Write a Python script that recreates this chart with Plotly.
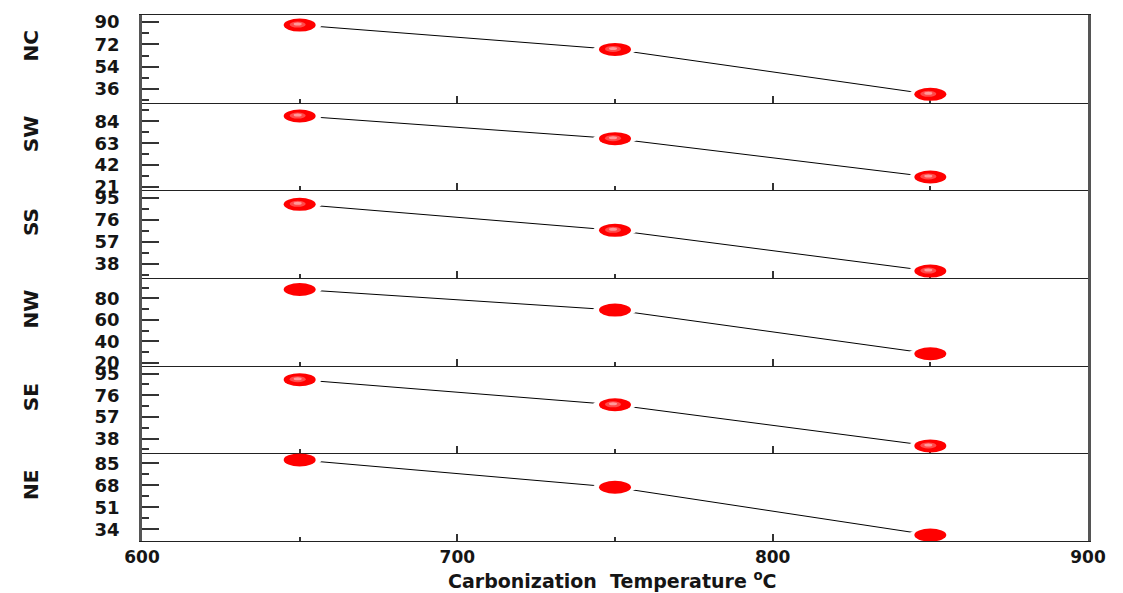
import plotly.graph_objects as go
from plotly.subplots import make_subplots

# ---------------- data ----------------
temps = [650, 750, 850]
regions = ["NC", "SW", "SS", "NW", "SE", "NE"]
nc = [87.6, 67.9, 31.7]
sw = [89.1, 67.4, 30.6]
ss = [89.2, 66.8, 31.6]
nw = [88.3, 69.2, 28.6]
se = [89.7, 67.7, 31.6]
ne = [87.6, 66.5, 29.6]
series = [nc, sw, ss, nw, se, ne]

# y-axis tick settings per panel (first labelled tick, step)
tick_start = [36, 21, 38, 20, 38, 34]
tick_step = [18, 21, 19, 20, 19, 17]
y_ranges = [[25.0, 95.7], [17.8, 101.9], [25.6, 101.3], [17.5, 99.0], [25.1, 102.0], [25.0, 92.7]]
highlight = [True, True, True, False, True, False]

x_ticks = [600, 700, 800, 900]
x_title = "Carbonization  Temperature <sup>o</sup>C"

# ---------------- figure ----------------
fig = make_subplots(rows=6, cols=1, shared_xaxes=True, vertical_spacing=0)

FONT = "DejaVu Sans"
TXT = "#151515"

for i, vals in enumerate(series):
    r = i + 1
    fig.add_trace(
        go.Scatter(
            x=temps, y=vals, mode="lines+markers",
            line=dict(color="black", width=1),
            marker=dict(color="red", size=10, symbol="circle"),
            showlegend=False, hoverinfo="x+y",
        ),
        row=r, col=1,
    )
    xref = "x" if r == 1 else f"x{r}"
    yref = "y" if r == 1 else f"y{r}"
    for t, v in zip(temps, vals):
        # white gap around marker (so the line does not touch it)
        fig.add_shape(type="circle", xref=xref, yref=yref,
                      xsizemode="pixel", ysizemode="pixel",
                      xanchor=t, yanchor=v, x0=-22, x1=22, y0=-6, y1=6,
                      fillcolor="white", line=dict(width=0), layer="above")
        fig.add_shape(type="circle", xref=xref, yref=yref,
                      xsizemode="pixel", ysizemode="pixel",
                      xanchor=t, yanchor=v, x0=-16, x1=16, y0=-6.5, y1=6.5,
                      fillcolor="#ff0000", line=dict(width=0), layer="above")
        if highlight[i]:
            fig.add_shape(type="circle", xref=xref, yref=yref,
                          xsizemode="pixel", ysizemode="pixel",
                          xanchor=t, yanchor=v, x0=-10, x1=6, y0=-2.5, y1=3.5,
                          fillcolor="#ff4a4a", line=dict(width=0), layer="above")
            fig.add_shape(type="circle", xref=xref, yref=yref,
                          xsizemode="pixel", ysizemode="pixel",
                          xanchor=t, yanchor=v, x0=-6, x1=2, y0=-0.5, y1=2.5,
                          fillcolor="#ff9a9a", line=dict(width=0), layer="above")

    fig.update_yaxes(
        row=r, col=1,
        range=y_ranges[i], tick0=tick_start[i], dtick=tick_step[i],
        ticks="inside", ticklen=17, tickwidth=1.5, tickcolor="#333",
        minor=dict(dtick=tick_step[i] / 2, tick0=tick_start[i], ticks="inside",
                   ticklen=7, tickwidth=1.5, tickcolor="#333"),
        showline=True, linecolor="#555", linewidth=2.5, mirror=True,
        showgrid=False, zeroline=False,
        tickfont=dict(family=FONT, size=18, color=TXT, weight="bold"),
        ticklabelstandoff=16,
    )
    fig.update_xaxes(
        row=r, col=1,
        range=[600, 900], tickvals=x_ticks,
        ticks="inside", ticklen=7, tickwidth=2, tickcolor="#333",
        minor=dict(tickvals=temps, ticks="inside", ticklen=4, tickwidth=2, tickcolor="#333"),
        showline=True, linecolor="#222", linewidth=1.3, mirror=(r == 1),
        showgrid=False, zeroline=False,
        tickfont=dict(family=FONT, size=17, color=TXT, weight="bold"),
    )
    fig.add_annotation(
        text=regions[i], xref="paper", yref=f"{yref} domain",
        x=-0.1173, y=0.64, xanchor="center", yanchor="middle",
        textangle=-90, showarrow=False,
        font=dict(family=FONT, size=20, color=TXT, weight="bold"),
    )

fig.add_annotation(
    text=x_title, xref="paper", yref="paper", x=0.497, y=-0.074,
    xanchor="center", yanchor="middle", showarrow=False,
    font=dict(family=FONT, size=19, color=TXT, weight="bold"),
)

fig.update_layout(
    width=1123, height=593,
    margin=dict(l=142, r=35, t=15, b=52),
    paper_bgcolor="white", plot_bgcolor="white",
    showlegend=False,
)

fig.write_html("out.html")
